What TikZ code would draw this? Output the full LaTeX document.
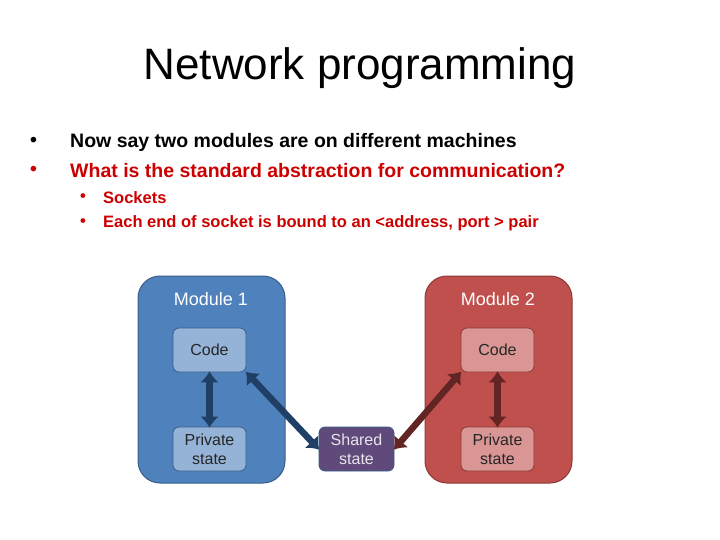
\documentclass[tikz,border=0pt]{standalone}
\usepackage{fontspec}
\setmainfont{Liberation Sans}
\usetikzlibrary{arrows.meta}
\definecolor{blueM}{HTML}{4F81BD}
\definecolor{blueD}{HTML}{385D8A}
\definecolor{blueL}{HTML}{95B3D7}
\definecolor{redM}{HTML}{C0504D}
\definecolor{redD}{HTML}{8C3836}
\definecolor{redL}{HTML}{D99694}
\definecolor{purp}{HTML}{604A7B}
\definecolor{arrB}{HTML}{1F3F66}
\definecolor{arrR}{HTML}{632523}
\definecolor{txt}{HTML}{262626}
\definecolor{redT}{HTML}{CC0000}
\begin{document}
\begin{tikzpicture}[x=1pt,y=-1pt,
  modbox/.style={rounded corners=22pt,draw=#1,line width=1pt},
  inner/.style={rounded corners=6pt,draw=#1,line width=0.8pt,minimum width=73pt,minimum height=44pt,align=center,font=\fontsize{16}{19}\selectfont,text=txt},
  dbl/.style={line width=6.5pt,{Latex[length=11pt,width=19pt]}-{Latex[length=11pt,width=19pt]},draw=#1,shorten >=-1pt,shorten <=-1pt},
  bul/.style={anchor=west,inner sep=0pt,font=\bfseries\fontsize{19.5}{19.5}\selectfont},
  sbul/.style={anchor=west,inner sep=0pt,font=\bfseries\fontsize{16.5}{16.5}\selectfont,text=redT}]
\useasboundingbox (0,0) rectangle (720,540);
\node (title) at (360,68) {\fontsize{44}{44}\selectfont Network programming};
\node[bul] (b1d) at (30,142) {•};
\node[bul] (b1) at (70,142) {Now say two modules are on different machines};
\node[bul,text=redT] (b2d) at (30,171) {•};
\node[bul,text=redT] (b2) at (70,171) {What is the standard abstraction for communication?};
\node[sbul] (s1d) at (80,198) {•};
\node[sbul] (s1) at (103,198) {Sockets};
\node[sbul] (s2d) at (80,223) {•};
\node[sbul] (s2) at (103,223) {Each end of socket is bound to an <address, port > pair};
\draw[modbox=blueD,fill=blueM] (138,276) rectangle (285,483);
\draw[modbox=redD,fill=redM] (425,276) rectangle (572,483);
\node[text=white,font=\fontsize{18}{18}\selectfont] (m1) at (211,299) {Module 1};
\node[text=white,font=\fontsize{18}{18}\selectfont] (m2) at (498,299) {Module 2};
\node[inner=blueD,fill=blueL] (c1) at (209.5,350) {Code};
\node[inner=blueD,fill=blueL] (p1) at (209.5,449) {Private\\state};
\node[inner=redD,fill=redL] (c2) at (497.5,350) {Code};
\node[inner=redD,fill=redL] (p2) at (497.5,449) {Private\\state};
\node[inner=blueD,fill=purp,text=white!85!purp,minimum width=75pt] (sh) at (356.5,449) {Shared\\state};
\draw[dbl=arrB] (c1.south) -- (p1.north);
\draw[dbl=arrB] (c1.south east) -- (sh.west);
\draw[dbl=arrR] (c2.south) -- (p2.north);
\draw[dbl=arrR] (c2.south west) -- (sh.east);
\end{tikzpicture}
\end{document}
